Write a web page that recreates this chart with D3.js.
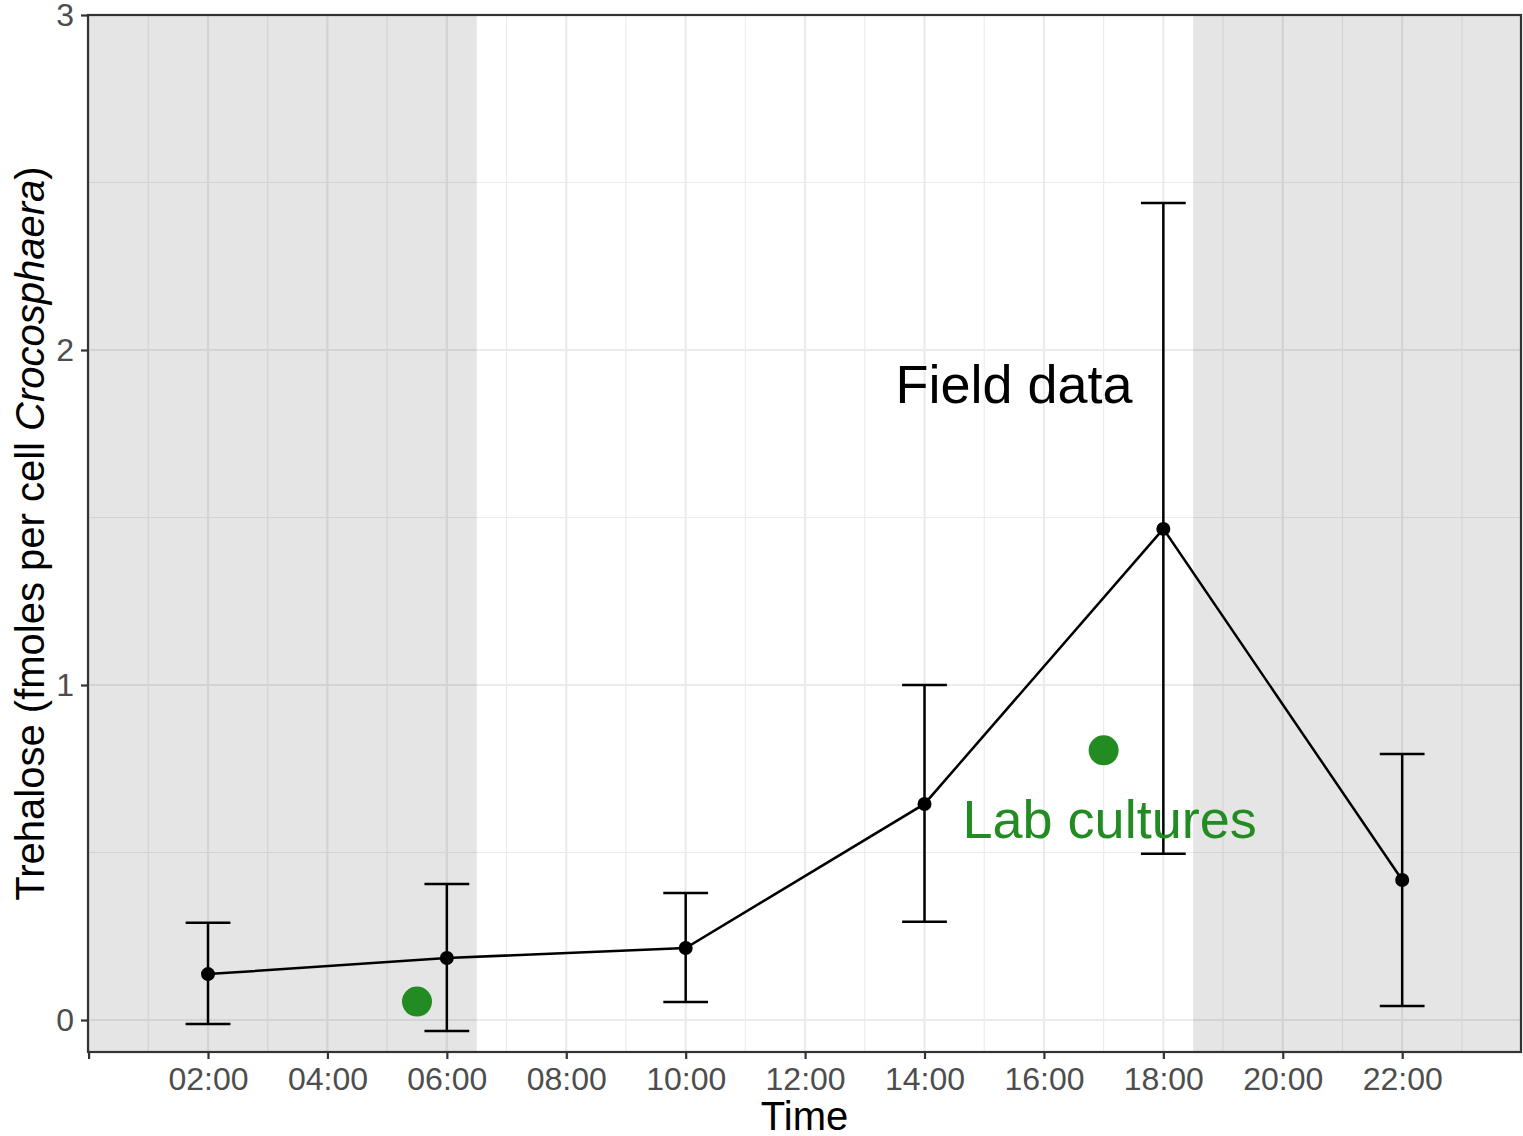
<!DOCTYPE html>
<html>
<head>
<meta charset="utf-8">
<script src="https://cdn.jsdelivr.net/npm/d3@7/dist/d3.min.js"></script>
<style>
  html, body { margin: 0; padding: 0; background: #fff; }
  svg { display: block; font-family: "Liberation Sans", Arial, Helvetica, sans-serif; }
</style>
</head>
<body>
<svg id="chart" width="1523" height="1136"></svg>
<script>
// ---- data ----
const times = [2, 6, 10, 14, 18, 22];            // hours of day
const means = [0.137, 0.185, 0.215, 0.645, 1.466, 0.418];
const lower = [-0.012, -0.033, 0.054, 0.293, 0.496, 0.042];
const upper = [0.290, 0.406, 0.379, 1.000, 2.439, 0.794];
const labTimes = [5.5, 17];
const labValues = [0.055, 0.805];
const darkStart = [0, 18.5];
const darkEnd = [6.5, 24];
const xTickHours = [0, 2, 4, 6, 8, 10, 12, 14, 16, 18, 20, 22];
const xTickLabels = ["", "02:00", "04:00", "06:00", "08:00", "10:00", "12:00", "14:00", "16:00", "18:00", "20:00", "22:00"];
const xMinorHours = [1, 3, 5, 7, 9, 11, 13, 15, 17, 19, 21, 23];
const yTicks = [0, 1, 2, 3];
const yMinor = [0.5, 1.5, 2.5];
const fieldLabel = {text: "Field data", x: 15.5, y: 1.9};
const labLabel = {text: "Lab cultures", x: 17.1, y: 0.6};

// ---- layout ----
const svg = d3.select("#chart");
const L = 88, R = 1521, T = 15, B = 1052;
const x = d3.scaleLinear().domain([-0.01, 23.99]).range([L, R]);
const y = d3.scaleLinear().domain([-0.0955, 3]).range([B, T]);

// panel background
svg.append("rect").attr("x", L).attr("y", T).attr("width", R - L).attr("height", B - T).attr("fill", "#fff");

const grid = svg.append("g");
// minor grid
grid.selectAll(".vminor").data(xMinorHours).enter().append("line")
  .attr("x1", d => x(d)).attr("x2", d => x(d)).attr("y1", T).attr("y2", B)
  .attr("stroke", "#EBEBEB").attr("stroke-width", 1.1);
grid.selectAll(".hminor").data(yMinor).enter().append("line")
  .attr("y1", d => y(d)).attr("y2", d => y(d)).attr("x1", L).attr("x2", R)
  .attr("stroke", "#EBEBEB").attr("stroke-width", 1.1);
// major grid
grid.selectAll(".vmajor").data(xTickHours).enter().append("line")
  .attr("x1", d => x(d)).attr("x2", d => x(d)).attr("y1", T).attr("y2", B)
  .attr("stroke", "#EBEBEB").attr("stroke-width", 2.2);
grid.selectAll(".hmajor").data(yTicks).enter().append("line")
  .attr("y1", d => y(d)).attr("y2", d => y(d)).attr("x1", L).attr("x2", R)
  .attr("stroke", "#EBEBEB").attr("stroke-width", 2.2);

// dark periods
const clipId = "panelClip";
svg.append("clipPath").attr("id", clipId).append("rect")
  .attr("x", L).attr("y", T).attr("width", R - L).attr("height", B - T);
svg.append("g").attr("clip-path", `url(#${clipId})`)
  .selectAll("rect").data(darkStart.map((s, i) => [s, darkEnd[i]])).enter().append("rect")
  .attr("x", d => x(d[0])).attr("width", d => x(d[1]) - x(d[0]))
  .attr("y", T).attr("height", B - T)
  .attr("fill", "#000").attr("fill-opacity", 0.1);

// line
const pts = times.map((t, i) => [t, means[i]]);
svg.append("path").datum(pts)
  .attr("d", d3.line().x(d => x(d[0])).y(d => y(d[1])))
  .attr("fill", "none").attr("stroke", "#000").attr("stroke-width", 2.5);

// error bars
const capHalf = 0.375;
const eb = svg.append("g").attr("stroke", "#000").attr("stroke-width", 2.5).attr("fill", "none");
times.forEach((t, i) => {
  eb.append("line").attr("x1", x(t)).attr("x2", x(t)).attr("y1", y(lower[i])).attr("y2", y(upper[i]));
  eb.append("line").attr("x1", x(t - capHalf)).attr("x2", x(t + capHalf)).attr("y1", y(lower[i])).attr("y2", y(lower[i]));
  eb.append("line").attr("x1", x(t - capHalf)).attr("x2", x(t + capHalf)).attr("y1", y(upper[i])).attr("y2", y(upper[i]));
});

// points
svg.append("g").selectAll("circle").data(pts).enter().append("circle")
  .attr("cx", d => x(d[0])).attr("cy", d => y(d[1])).attr("r", 7).attr("fill", "#000");

// lab points
svg.append("g").selectAll("circle").data(labTimes.map((t, i) => [t, labValues[i]])).enter().append("circle")
  .attr("cx", d => x(d[0])).attr("cy", d => y(d[1])).attr("r", 15).attr("fill", "#228B22");

// annotations
svg.append("text").attr("x", x(fieldLabel.x)).attr("y", y(fieldLabel.y))
  .attr("text-anchor", "middle").attr("dominant-baseline", "central")
  .attr("font-size", 54).attr("fill", "#000").text(fieldLabel.text);
svg.append("text").attr("x", x(labLabel.x)).attr("y", y(labLabel.y))
  .attr("text-anchor", "middle").attr("dominant-baseline", "central")
  .attr("font-size", 54).attr("fill", "#228B22").text(labLabel.text);

// panel border
svg.append("rect").attr("x", L).attr("y", T).attr("width", R - L).attr("height", B - T)
  .attr("fill", "none").attr("stroke", "#333").attr("stroke-width", 2.2);

// axes
const xAxis = d3.axisBottom(x).tickValues(xTickHours).tickSize(7).tickPadding(8)
  .tickFormat((d, i) => xTickLabels[i]);
const gx = svg.append("g").attr("transform", `translate(0,${B})`).call(xAxis);
gx.select(".domain").remove();
gx.selectAll(".tick line").attr("stroke", "#333").attr("stroke-width", 2.2);
gx.selectAll(".tick text").attr("fill", "#4D4D4D").attr("font-size", 32)
  .attr("font-family", "'Liberation Sans', Arial, sans-serif");

const yAxis = d3.axisLeft(y).tickValues(yTicks).tickSize(7).tickPadding(7).tickFormat(d3.format("d"));
const gy = svg.append("g").attr("transform", `translate(${L},0)`).call(yAxis);
gy.select(".domain").remove();
gy.selectAll(".tick line").attr("stroke", "#333").attr("stroke-width", 2.2);
gy.selectAll(".tick text").attr("fill", "#4D4D4D").attr("font-size", 32)
  .attr("font-family", "'Liberation Sans', Arial, sans-serif");

// axis titles
svg.append("text").attr("x", (L + R) / 2).attr("y", 1130).attr("text-anchor", "middle")
  .attr("font-size", 40).attr("fill", "#000").text("Time");
const yt = svg.append("text").attr("transform", `translate(44,${(T + B) / 2}) rotate(-90)`)
  .attr("text-anchor", "middle").attr("font-size", 40).attr("fill", "#000");
yt.append("tspan").text("Trehalose (fmoles per cell ");
yt.append("tspan").attr("font-style", "italic").text("Crocosphaera");
yt.append("tspan").text(")");
</script>
</body>
</html>
